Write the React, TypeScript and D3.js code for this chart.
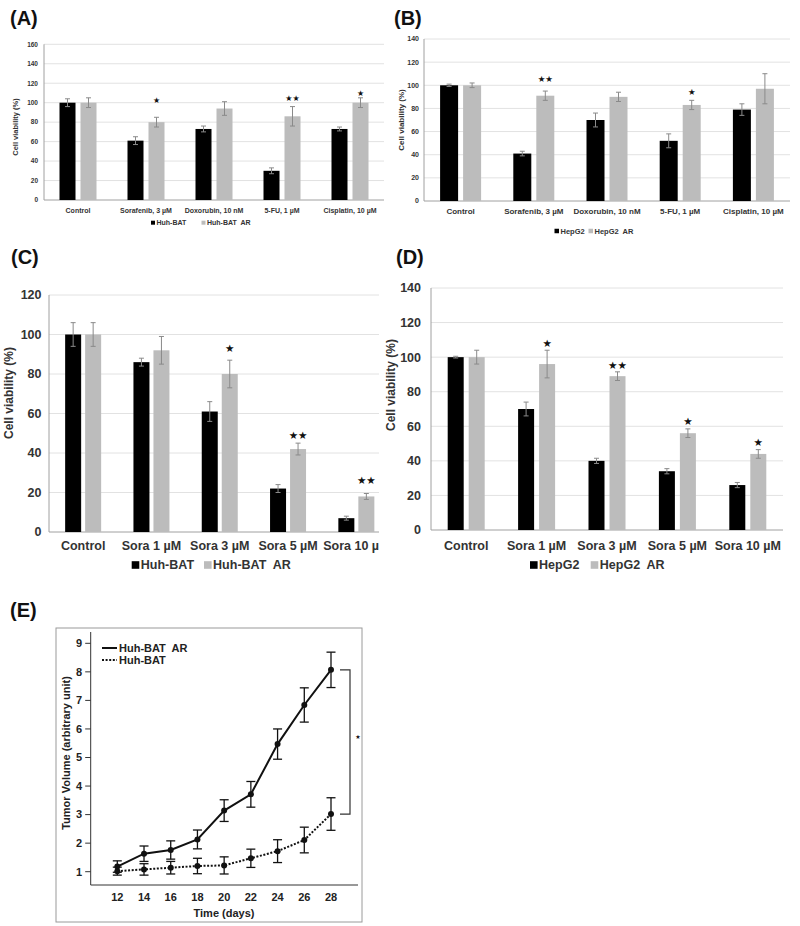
import React from 'react';
import * as d3 from 'd3';

// categories
const drugCats = ['Control', 'Sorafenib, 3 µM', 'Doxorubin, 10 nM', '5-FU, 1 µM', 'Cisplatin, 10 µM'];
const soraCats = ['Control', 'Sora 1 µM', 'Sora 3 µM', 'Sora 5 µM', 'Sora 10 µM'];

// (A) Huh-BAT, drugs
const aHuh = [100, 61, 73, 30, 73];
const aHuhErr = [4, 4, 3, 3, 2];
const aHuhAR = [100, 80, 94, 86, 100];
const aHuhARErr = [5, 5, 7, 10, 5];
const aStars = ['', '★', '', '★★', '★'];
const aStarAt = [0, 103, 0, 105, 110];

// (B) HepG2, drugs
const bHep = [100, 41, 70, 52, 79];
const bHepErr = [1, 2, 6, 6, 5];
const bHepAR = [100, 91, 90, 83, 97];
const bHepARErr = [2, 4, 4, 4, 13];
const bStars = ['', '★★', '', '★', ''];
const bStarAt = [0, 105, 0, 94, 0];

// (C) Huh-BAT, sorafenib doses
const cHuh = [100, 86, 61, 22, 7];
const cHuhErr = [6, 2, 5, 2, 1];
const cHuhAR = [100, 92, 80, 42, 18];
const cHuhARErr = [6, 7, 7, 3, 1.5];
const cStars = ['', '', '★', '★★', '★★'];
const cStarAt = [0, 0, 93, 49, 26];

// (D) HepG2, sorafenib doses
const dHep = [100, 70, 40, 34, 26];
const dHepErr = [0.5, 4, 1.5, 1.5, 1.5];
const dHepAR = [100, 96, 89, 56, 44];
const dHepARErr = [4, 8, 2.5, 2.5, 2.5];
const dStars = ['', '★', '★★', '★', '★'];
const dStarAt = [0, 108, 95.5, 63, 51];

// (E) tumor volume
const days = [12, 14, 16, 18, 20, 22, 24, 26, 28];
const volAR = [1.18, 1.63, 1.76, 2.13, 3.14, 3.71, 5.47, 6.84, 8.07];
const volARErr = [0.2, 0.27, 0.32, 0.33, 0.38, 0.45, 0.53, 0.6, 0.62];
const volHuh = [1.02, 1.08, 1.14, 1.2, 1.22, 1.47, 1.72, 2.11, 3.02];
const volHuhErr = [0.14, 0.2, 0.22, 0.27, 0.3, 0.32, 0.4, 0.45, 0.57];
const volTicks = [1, 2, 3, 4, 5, 6, 7, 8, 9];

const FONT = '"Liberation Sans", Arial, sans-serif';

const BarPanel = (p: any) => {
  const x = d3.scaleBand().domain(p.cats).range([p.x0, p.x1]).padding(0);
  const y = d3.scaleLinear().domain([0, p.max]).range([p.yZero, p.yMax]);
  const ticks = d3.range(0, p.max + 1, 20);
  const bw = x.bandwidth();
  const cap = p.cap;
  const clipId = 'clip' + p.id;

  const bar = (c: string, i: number, vals: number[], errs: number[], left: boolean, fill: string) => {
    const cx = (x(c) as number) + bw / 2;
    const bx = left ? cx - p.gap / 2 - p.barW : cx + p.gap / 2;
    const mid = bx + p.barW / 2;
    const v = vals[i];
    const e = errs[i];
    return (
      <g key={(left ? 'l' : 'r') + i}>
        <rect x={bx} y={y(v)} width={p.barW} height={y(0) - y(v)} fill={fill} />
        <line x1={mid} x2={mid} y1={y(v - e)} y2={y(v + e)} stroke="#8a8a8a" strokeWidth={1} />
        <line x1={mid - cap} x2={mid + cap} y1={y(v + e)} y2={y(v + e)} stroke="#8a8a8a" strokeWidth={1} />
        <line x1={mid - cap} x2={mid + cap} y1={y(v - e)} y2={y(v - e)} stroke="#8a8a8a" strokeWidth={1} />
      </g>
    );
  };

  return (
    <g fontFamily={FONT}>
      {p.clip && (
        <defs>
          <clipPath id={clipId}>
            <rect x={0} y={0} width={p.clip} height={926} />
          </clipPath>
        </defs>
      )}
      <text x={p.title[0]} y={p.title[1]} fontSize={20} fontWeight="bold" fill="#111">{p.titleText}</text>
      <g clipPath={p.clip ? `url(#${clipId})` : undefined}>
        {ticks.map(t => (
          <g key={t}>
            {t > 0 && <line x1={p.x0} x2={p.x1} y1={y(t)} y2={y(t)} stroke="#e2e2e2" strokeWidth={1} />}
            <text x={p.x0 - p.tickOff} y={y(t)} dy="0.35em" textAnchor="end" fontSize={p.tickFs} fontWeight="bold" fill="#333">{t}</text>
          </g>
        ))}
        <line x1={p.x0} x2={p.x0} y1={y(0)} y2={y(p.max)} stroke="#a0a0a0" strokeWidth={1} />
        <line x1={p.x0} x2={p.x1} y1={y(0)} y2={y(0)} stroke="#a0a0a0" strokeWidth={1} />
        {p.cats.map((c: string, i: number) => bar(c, i, p.a, p.aErr, true, '#000'))}
        {p.cats.map((c: string, i: number) => bar(c, i, p.b, p.bErr, false, '#bcbcbc'))}
        {p.cats.map((c: string, i: number) => p.stars[i] ? (
          <text key={'s' + i} x={(x(c) as number) + bw / 2 + p.gap / 2 + p.barW / 2} y={y(p.starAt[i])}
            dy="0.35em" textAnchor="middle" fontSize={p.starFs} fill="#111"
            fontFamily='"DejaVu Sans", sans-serif'>{p.stars[i]}</text>
        ) : null)}
        {p.cats.map((c: string) => (
          <text key={c} x={(x(c) as number) + bw / 2} y={p.catY} textAnchor="middle" fontSize={p.catFs} fontWeight="bold" fill="#333">{c}</text>
        ))}
      </g>
      <text transform={`translate(${p.yLab[0]},${p.yLab[1]}) rotate(-90)`} textAnchor="middle" dy="0.35em"
        fontSize={p.yLabFs} fontWeight="bold" fill="#333">Cell viability (%)</text>
      {p.legend.map((l: any, i: number) => (
        <g key={'lg' + i}>
          <rect x={l.x} y={p.legY - p.legSq / 2} width={p.legSq} height={p.legSq} fill={i === 0 ? '#000' : '#bcbcbc'} />
          <text x={l.x + p.legSq + 1.5} y={p.legY} dy="0.35em" fontSize={p.legFs} fontWeight="bold" fill="#333"
            style={{ whiteSpace: 'pre' }}>{l.name}</text>
        </g>
      ))}
    </g>
  );
};

const TumorPanel = () => {
  const x = d3.scaleLinear().domain([12, 28]).range([117.3, 331]);
  const y = d3.scaleLinear().domain([1, 9]).range([871.7, 643.3]);
  const axL = 90.7, axB = 885, axT = 632, axR = 358;
  const line = d3.line<number>().x((_, i) => x(days[i])).y(d => y(d));
  const errs = (vals: number[], err: number[], key: string) => vals.map((v, i) => {
    const cx = x(days[i]);
    return (
      <g key={key + i} stroke="#111" strokeWidth={1.3}>
        <line x1={cx} x2={cx} y1={y(v - err[i])} y2={y(v + err[i])} />
        <line x1={cx - 4.5} x2={cx + 4.5} y1={y(v - err[i])} y2={y(v - err[i])} />
        <line x1={cx - 4.5} x2={cx + 4.5} y1={y(v + err[i])} y2={y(v + err[i])} />
      </g>
    );
  });
  return (
    <g fontFamily={FONT}>
      <text x={10} y={617} fontSize={20} fontWeight="bold" fill="#111">(E)</text>
      <rect x={56} y={628} width={306} height={294} fill="none" stroke="#9a9a9a" strokeWidth={1} />
      <line x1={axL} x2={axL} y1={axT} y2={axB} stroke="#333" strokeWidth={1} />
      <line x1={axL} x2={axR} y1={axB} y2={axB} stroke="#333" strokeWidth={1} />
      {volTicks.map(t => (
        <g key={t}>
          <line x1={axL - 5.5} x2={axL} y1={y(t)} y2={y(t)} stroke="#333" strokeWidth={1} />
          <text x={axL - 8.5} y={y(t)} dy="0.35em" textAnchor="end" fontSize={11} fontWeight="bold" fill="#222">{t}</text>
        </g>
      ))}
      {days.map(d => (
        <text key={d} x={x(d)} y={901} textAnchor="middle" fontSize={11} fontWeight="bold" fill="#222">{d}</text>
      ))}
      <text x={224} y={916.5} textAnchor="middle" fontSize={11} fontWeight="bold" fill="#222">Time (days)</text>
      <text transform="translate(66,753) rotate(-90)" textAnchor="middle" dy="0.35em" fontSize={11} fontWeight="bold" fill="#222">Tumor Volume (arbitrary unit)</text>
      <path d={line(volAR) as string} fill="none" stroke="#111" strokeWidth={2} />
      <path d={line(volHuh) as string} fill="none" stroke="#111" strokeWidth={2} strokeDasharray="2,1.6" />
      {errs(volAR, volARErr, 'a')}
      {errs(volHuh, volHuhErr, 'h')}
      {volAR.map((v, i) => <circle key={'ca' + i} cx={x(days[i])} cy={y(v)} r={3} fill="#111" />)}
      {volHuh.map((v, i) => <circle key={'ch' + i} cx={x(days[i])} cy={y(v)} r={3} fill="#111" />)}
      <line x1={102} x2={117} y1={648} y2={648} stroke="#111" strokeWidth={2} />
      <text x={119} y={648} dy="0.35em" fontSize={11} fontWeight="bold" fill="#222" style={{ whiteSpace: 'pre' }}>Huh-BAT  AR</text>
      <line x1={102} x2={117} y1={660} y2={660} stroke="#111" strokeWidth={2} strokeDasharray="2,1.6" />
      <text x={119} y={660} dy="0.35em" fontSize={11} fontWeight="bold" fill="#222">Huh-BAT</text>
      <path d={`M340,${y(8.07)}H350V${y(3.02)}H340`} fill="none" stroke="#333" strokeWidth={1.2} />
      <text x={358} y={737} dy="0.35em" textAnchor="middle" fontSize={6} fontFamily='"DejaVu Sans", sans-serif' fill="#111">★</text>
    </g>
  );
};

export default function App() {
  return (
    <svg width={800} height={926} style={{ position: 'absolute', left: 0, top: 0, background: '#fff' }}>
      <rect width={800} height={926} fill="#fff" />
      <BarPanel id="A" titleText="(A)" title={[10, 25]} cats={drugCats}
        a={aHuh} aErr={aHuhErr} b={aHuhAR} bErr={aHuhARErr} stars={aStars} starAt={aStarAt}
        x0={44} x1={384} yZero={200} yMax={44.3} max={160} barW={16} gap={5} cap={2.5}
        tickFs={6.5} tickOff={6} catFs={7} catY={212.5} starFs={8}
        yLab={[15, 127]} yLabFs={7.5}
        legY={222.7} legSq={4} legFs={7}
        legend={[{ x: 151, name: 'Huh-BAT' }, { x: 201.5, name: 'Huh-BAT  AR' }]} />
      <BarPanel id="B" titleText="(B)" title={[394, 25]} cats={drugCats}
        a={bHep} aErr={bHepErr} b={bHepAR} bErr={bHepARErr} stars={bStars} starAt={bStarAt}
        x0={424} x1={790} yZero={201} yMax={39} max={140} barW={18} gap={5} cap={2.5}
        tickFs={7} tickOff={5} catFs={8} catY={214} starFs={8.5}
        yLab={[401, 120]} yLabFs={8}
        legY={231} legSq={4.5} legFs={7.5}
        legend={[{ x: 554.5, name: 'HepG2' }, { x: 588.5, name: 'HepG2  AR' }]} />
      <BarPanel id="C" titleText="(C)" title={[11, 264]} cats={soraCats}
        a={cHuh} aErr={cHuhErr} b={cHuhAR} bErr={cHuhARErr} stars={cStars} starAt={cStarAt}
        x0={49} x1={390.5} yZero={532} yMax={295} max={120} barW={16} gap={4} cap={2.5}
        tickFs={12.5} tickOff={7.5} catFs={12.5} catY={549.5} starFs={10.5} clip={379}
        yLab={[9, 393]} yLabFs={12}
        legY={565} legSq={7.6} legFs={12.5}
        legend={[{ x: 131.7, name: 'Huh-BAT' }, { x: 204, name: 'Huh-BAT  AR' }]} />
      <BarPanel id="D" titleText="(D)" title={[396, 264]} cats={soraCats}
        a={dHep} aErr={dHepErr} b={dHepAR} bErr={dHepARErr} stars={dStars} starAt={dStarAt}
        x0={431} x1={783} yZero={530} yMax={288} max={140} barW={16} gap={5} cap={2.5}
        tickFs={12.5} tickOff={10} catFs={12.5} catY={549.5} starFs={10.5}
        yLab={[391, 385]} yLabFs={12}
        legY={565} legSq={7.6} legFs={12.5}
        legend={[{ x: 530, name: 'HepG2' }, { x: 590.7, name: 'HepG2  AR' }]} />
      <TumorPanel />
    </svg>
  );
}
